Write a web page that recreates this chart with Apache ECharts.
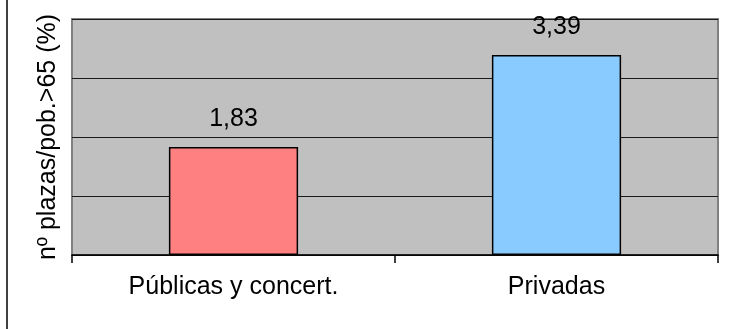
<!DOCTYPE html>
<html>
<head>
<meta charset="utf-8">
<script src="https://cdn.jsdelivr.net/npm/echarts@6/dist/echarts.min.js"></script>
<style>
  html, body { margin: 0; padding: 0; background: #fff; }
  #chart { width: 730px; height: 329px; }
</style>
</head>
<body>
<div id="chart"></div>
<script>
const categories = ['Públicas y concert.', 'Privadas']
const values = [1.83, 3.39]
const barColors = ['#FF8080', '#8ACBFF']
const yTicks = [0, 1, 2, 3, 4]

const chart = echarts.init(document.getElementById('chart'))

chart.setOption({
  animation: false,
  textStyle: { fontFamily: 'Liberation Sans, Arial, sans-serif' },
  graphic: [{
    type: 'line',
    shape: { x1: 7, y1: 0, x2: 7, y2: 329 },
    style: { stroke: '#000', lineWidth: 1.5 }
  }],
  grid: {
    left: 72,
    right: 12,
    top: 19,
    bottom: 74,
    show: true,
    backgroundColor: '#C0C0C0',
    borderColor: '#808080',
    borderWidth: 2
  },
  xAxis: {
    type: 'category',
    data: categories,
    axisLine: { lineStyle: { color: '#000', width: 1.5 } },
    axisTick: { show: true, length: 8, lineStyle: { color: '#000', width: 1.5 } },
    axisLabel: { color: '#000', fontSize: 25, margin: 20 }
  },
  yAxis: {
    type: 'value',
    min: yTicks[0],
    max: yTicks[yTicks.length - 1],
    interval: 1,
    name: 'nº plazas/pob.>65 (%)',
    nameLocation: 'middle',
    nameGap: 11,
    nameTextStyle: { color: '#000', fontSize: 25 },
    axisLine: { show: false },
    axisTick: { show: false },
    axisLabel: { show: false },
    splitLine: { lineStyle: { color: '#1a1a1a', width: 1 } }
  },
  series: [{
    type: 'bar',
    barWidth: '40%',
    data: values.map((v, i) => ({
      value: v,
      itemStyle: { color: barColors[i], borderColor: '#000', borderWidth: 1.5 }
    })),
    label: {
      show: true,
      position: 'top',
      distance: 15,
      color: '#000',
      fontSize: 25,
      formatter: p => p.value.toFixed(2).replace('.', ',')
    }
  }]
})
</script>
</body>
</html>
